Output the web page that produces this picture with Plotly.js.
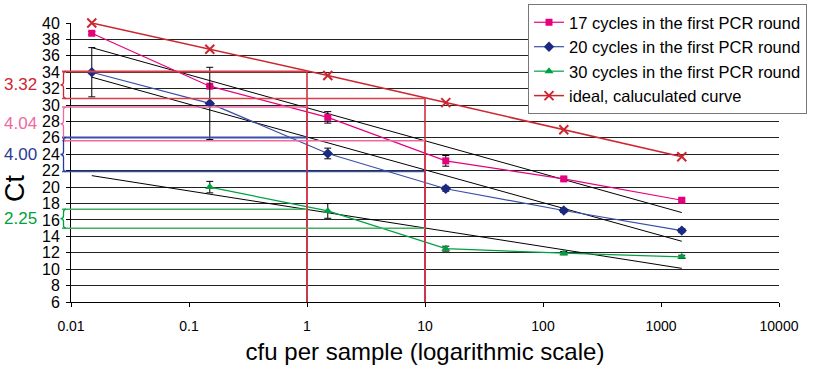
<!DOCTYPE html>
<html>
<head>
<meta charset="utf-8">
<script src="https://cdn.plot.ly/plotly-3.0.1.min.js"></script>
<style>html,body{margin:0;padding:0;background:#fff;} #chart{width:813px;height:369px;}</style>
</head>
<body>
<div id="chart"></div>
<script>
// ---- data ----
var xVals = [0.015, 0.15, 1.5, 15, 150, 1500];
var c17 = [38.75, 32.3, 28.5, 23.2, 21.0, 18.4];
var c17err = [0.2, 0, 0.7, 0.65, 0.2, 0.2];
var c20 = [34.0, 30.2, 24.1, 19.8, 17.15, 14.7];
var c20err = [3.0, 4.4, 0.65, 0.3, 0.25, 0.25];
var c30 = [null, 20.0, 17.1, 12.5, 11.95, 11.5];
var c30err = [null, 0.7, 0.9, 0.3, 0.2, 0.2];
var ideal = [40.0, 36.8, 33.6, 30.3, 27.0, 23.7];

var trendX = [0.015, 1500];
var trend17 = [37.0, 16.9];
var trend20 = [33.4, 13.4];
var trend30 = [21.4, 10.1];

var refX = [1, 10];
var refRed = [34.1, 30.8];
var refPink = [29.75, 25.65];
var refBlue = [26.05, 21.9];
var refGreen = [17.3, 15.0];
var slopeLabels = ["3.32", "4.04", "4.00", "2.25"];

var tickVals = [0.01, 0.1, 1, 10, 100, 1000, 10000];
var tickText = ["0.01", "0.1", "1", "10", "100", "1000", "10000"];

var names = ["17 cycles in the first PCR round", "20 cycles in the first PCR round",
             "30 cycles in the first PCR round", "ideal, caluculated curve"];

// ---- colours ----
var cPink = "#e6007e", cBlue = "#2a3a96", cGreen = "#00a040", cRed = "#cc2630";
var FONT = "Liberation Sans, Arial, sans-serif";

var traces = [];
function trend(y) {
  return {x: trendX, y: y, mode: "lines", line: {color: "#000", width: 1}, showlegend: false, hoverinfo: "skip"};
}
traces.push(trend(trend17), trend(trend20), trend(trend30));

function series(y, err, name, color, lineColor, symbol, size) {
  var t = {x: xVals, y: y, name: name, mode: "lines+markers",
    line: {color: lineColor, width: 1.2},
    marker: {color: color, symbol: symbol, size: size},
    connectgaps: false, cliponaxis: false};
  if (err) t.error_y = {type: "data", array: err, visible: true, color: "#000", thickness: 1, width: 3.5};
  return t;
}
traces.push(series(c17, c17err, names[0], cPink, cPink, "square", 7));
traces.push(series(c20, c20err, names[1], "#1b2a80", "#3a50a8", "diamond", 8));
traces.push(series(c30, c30err, names[2], "#00a040", "#00a040", "triangle-up", 8));
var it = series(ideal, null, names[3], cRed, cRed, "x-thin-open", 9);
it.marker.line = {color: cRed, width: 2};
it.line.width = 1.5;
traces.push(it);

// ---- reference shapes ----
function px(xv) { return (Math.log10(xv) + 2) / 6; }
var leftPaper = -9 / 708;
var shapes = [];
function refLines(vals, color, w1, w2) {
  shapes.push({type: "line", xref: "paper", yref: "y", x0: leftPaper, x1: px(refX[0]), y0: vals[0], y1: vals[0], line: {color: color, width: w1}});
  shapes.push({type: "line", xref: "paper", yref: "y", x0: leftPaper, x1: px(refX[1]), y0: vals[1], y1: vals[1], line: {color: color, width: w2}});
}
function vert(xv, yv, color) {
  shapes.push({type: "line", xref: "x", yref: "y", x0: xv, x1: xv, y0: yv, y1: 6, line: {color: color, width: 1.5}});
}
vert(refX[0], refGreen[0], cGreen);
vert(refX[0], refPink[0], "#e8609a");
vert(refX[0], refRed[0], cRed);
vert(refX[1], refBlue[1], "#4a64b0");
vert(refX[1], refPink[1], "#e8609a");
vert(refX[1], refRed[1], cRed);
refLines(refRed, "#d84048", 2, 1.5);
refLines(refPink, "#ee6aa0", 1.5, 1.5);
refLines(refBlue, "#3a50a8", 2, 1.5);
refLines(refGreen, "#40b060", 1.5, 1.5);

function brace(top, bot, color) {
  var xr = -5 / 708, xm = -7.5 / 708, xl = -10.5 / 708;
  var mid = (top + bot) / 2, d = 0.35;
  var p = "M " + xr + "," + top + " Q " + xm + "," + top + " " + xm + "," + (top - d) +
    " L " + xm + "," + (mid + d) + " Q " + xm + "," + mid + " " + xl + "," + mid +
    " Q " + xm + "," + mid + " " + xm + "," + (mid - d) +
    " L " + xm + "," + (bot + d) + " Q " + xm + "," + bot + " " + xr + "," + bot;
  shapes.push({type: "path", xref: "paper", yref: "y", path: p, line: {color: color, width: 1.3}});
}
brace(refRed[0], refRed[1], cRed);
brace(refPink[0], refPink[1], "#ee6aa0");
brace(refBlue[0], refBlue[1], cBlue);
brace(refGreen[0], refGreen[1], cGreen);

var annColors = [cRed, "#ee6aa0", cBlue, cGreen];
var annY = [(refRed[0] + refRed[1]) / 2, (refPink[0] + refPink[1]) / 2, (refBlue[0] + refBlue[1]) / 2, (refGreen[0] + refGreen[1]) / 2];
var annotations = slopeLabels.map(function (s, i) {
  return {xref: "paper", yref: "y", x: -32 / 708, y: annY[i], text: s, showarrow: false,
    xanchor: "right", yanchor: "middle", font: {color: annColors[i], size: 17, family: FONT}};
});
annotations.push({xref: "paper", yref: "paper", x: -56 / 708, y: (302 - 188) / 279, text: "Ct",
  showarrow: false, textangle: -90, xanchor: "center", yanchor: "middle",
  font: {size: 27, color: "#000", family: FONT}});

var layout = {
  width: 813, height: 369,
  margin: {l: 71, r: 34, t: 23, b: 67, autoexpand: false},
  paper_bgcolor: "#fff", plot_bgcolor: "#fff",
  font: {family: FONT, color: "#000", size: 14},
  xaxis: {type: "log", range: [-2, 4], tickvals: tickVals, ticktext: tickText, automargin: false,
    showgrid: false, showline: true, linecolor: "#000", linewidth: 1,
    ticks: "outside", ticklen: 4, tickcolor: "#000", tickfont: {size: 14},
    ticklabelstandoff: 7, zeroline: false,
    title: {text: "cfu per sample (logarithmic scale)", font: {size: 24}, standoff: 10}},
  yaxis: {range: [6, 40], dtick: 2, tick0: 6, showgrid: true, gridcolor: "#222", gridwidth: 1, automargin: false,
    showline: true, linecolor: "#000", linewidth: 1, ticks: "outside", ticklen: 4, tickcolor: "#000",
    zeroline: false, tickfont: {size: 16}, ticklabelstandoff: 3},
  showlegend: true,
  legend: {x: 457 / 708, xanchor: "left", y: 1.068, yanchor: "top",
    bgcolor: "#fff", bordercolor: "#777", borderwidth: 1,
    font: {size: 16.5}, tracegroupgap: 0},
  shapes: shapes,
  annotations: annotations
};

Plotly.newPlot("chart", traces, layout, {staticPlot: true, displayModeBar: false});
</script>
</body>
</html>
